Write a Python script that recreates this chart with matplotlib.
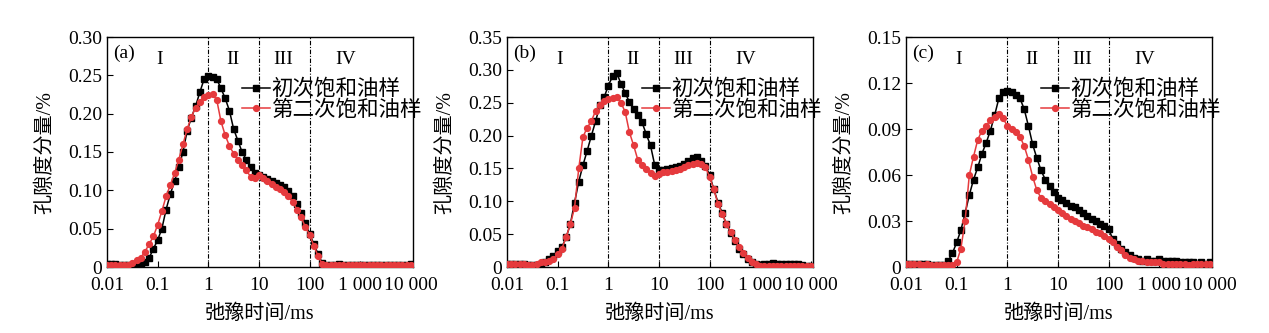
import numpy as np
import matplotlib
matplotlib.use("Agg")
import matplotlib.pyplot as plt
from matplotlib.ticker import FixedLocator, LogLocator, NullFormatter, FuncFormatter

# T2 relaxation time grid (ms), 12 points per decade
t2 = np.logspace(-2, 4, 73)

# (a)
a_first = [0.004, 0.004, 0.004, 0.003, 0.003, 0.002, 0.001, 0.001, 0.002,
           0.006, 0.012, 0.024, 0.035, 0.050, 0.075, 0.095, 0.112, 0.130, 0.150, 0.178, 0.195, 0.210, 0.228, 0.245,
           0.249, 0.248, 0.245, 0.233, 0.220, 0.204, 0.180, 0.165, 0.150, 0.140, 0.130, 0.122,
           0.120, 0.118, 0.115, 0.112, 0.109, 0.107, 0.104, 0.099, 0.092, 0.082, 0.070, 0.057, 0.043, 0.030, 0.017, 0.005, 0.002,
           0.003, 0.003, 0.004, 0.003, 0.003, 0.003, 0.002, 0.003, 0.003, 0.002, 0.002, 0.003, 0.003, 0.003, 0.002, 0.003, 0.003, 0.003, 0.003, 0.004]
a_second = [0.003, 0.003, 0.003, 0.002, 0.002, 0.003, 0.005, 0.009, 0.012,
            0.020, 0.030, 0.040, 0.055, 0.073, 0.092, 0.107, 0.122, 0.140, 0.160, 0.180, 0.196, 0.208, 0.215, 0.222,
            0.225, 0.226, 0.218, 0.190, 0.172, 0.158, 0.148, 0.140, 0.133, 0.126, 0.118, 0.116,
            0.120, 0.116, 0.112, 0.108, 0.105, 0.102, 0.098, 0.093, 0.085, 0.075, 0.065, 0.052, 0.042, 0.028, 0.014, 0.004, 0.002,
            0.002, 0.002, 0.002, 0.003, 0.002, 0.002, 0.002, 0.002, 0.003, 0.002, 0.002, 0.002, 0.002, 0.002, 0.002, 0.002, 0.002, 0.003, 0.002, 0.002]

# (b)
b_first = [0.005, 0.005, 0.005, 0.004, 0.004, 0.003, 0.003, 0.003, 0.004,
           0.008, 0.012, 0.017, 0.025, 0.030, 0.045, 0.065, 0.098, 0.130, 0.155, 0.177, 0.200, 0.222, 0.246, 0.258,
           0.276, 0.290, 0.295, 0.279, 0.265, 0.251, 0.240, 0.231, 0.220, 0.202, 0.185, 0.155,
           0.147, 0.148, 0.149, 0.150, 0.152, 0.154, 0.157, 0.161, 0.166, 0.167, 0.162, 0.154, 0.140, 0.118, 0.098, 0.082, 0.065,
           0.052, 0.040, 0.028, 0.020, 0.012, 0.008, 0.005, 0.003, 0.004, 0.005, 0.006, 0.005, 0.004, 0.005, 0.005, 0.005, 0.004, 0.003, 0.002, 0.001]
b_second = [0.005, 0.005, 0.004, 0.004, 0.004, 0.003, 0.003, 0.005, 0.008,
            0.007, 0.009, 0.012, 0.020, 0.028, 0.045, 0.065, 0.090, 0.150, 0.198, 0.212, 0.222, 0.238, 0.246, 0.252,
            0.255, 0.257, 0.258, 0.250, 0.236, 0.205, 0.185, 0.163, 0.155, 0.149, 0.143, 0.138,
            0.141, 0.144, 0.145, 0.146, 0.147, 0.149, 0.152, 0.155, 0.157, 0.159, 0.157, 0.152, 0.137, 0.118, 0.096, 0.080, 0.066,
            0.053, 0.041, 0.030, 0.021, 0.013, 0.008, 0.004, 0.002, 0.002, 0.002, 0.002, 0.001, 0.002, 0.002, 0.002, 0.001, 0.002, 0.002, 0.001, 0.001]

# (c)
c_first = [0.002, 0.002, 0.002, 0.002, 0.002, 0.002, 0.001, 0.001, 0.001, 0.001,
           0.004, 0.009, 0.016, 0.024, 0.035, 0.047, 0.057, 0.065, 0.074, 0.081, 0.089, 0.099, 0.110, 0.114,
           0.115, 0.114, 0.112, 0.110, 0.103, 0.092, 0.080, 0.071, 0.063, 0.057, 0.053, 0.049,
           0.045, 0.044, 0.042, 0.040, 0.039, 0.037, 0.035, 0.033, 0.031, 0.030, 0.028, 0.027, 0.025, 0.018, 0.015, 0.012, 0.010,
           0.008, 0.006, 0.005, 0.004, 0.005, 0.004, 0.004, 0.005, 0.004, 0.004, 0.004, 0.004, 0.003, 0.003, 0.003, 0.003, 0.002, 0.003, 0.002, 0.003]
c_second = [0.002, 0.002, 0.002, 0.002, 0.001, 0.002, 0.001, 0.001, 0.001, 0.001, 0.001, 0.001,
            0.003, 0.012, 0.030, 0.060, 0.072, 0.083, 0.089, 0.092, 0.096, 0.098, 0.100, 0.097,
            0.092, 0.090, 0.088, 0.085, 0.079, 0.070, 0.059, 0.050, 0.045, 0.043, 0.041, 0.039,
            0.037, 0.035, 0.033, 0.031, 0.030, 0.029, 0.027, 0.026, 0.025, 0.023, 0.022, 0.020, 0.018, 0.016, 0.013, 0.011, 0.008,
            0.006, 0.005, 0.004, 0.004, 0.003, 0.003, 0.003, 0.003, 0.002, 0.002, 0.002, 0.002, 0.002, 0.002, 0.001, 0.002, 0.002, 0.002, 0.002, 0.002]

panel_tags = ["(a)", "(b)", "(c)"]
y_max = [0.30, 0.35, 0.15]
y_step = [0.05, 0.05, 0.03]
x_ticks = [0.01, 0.1, 1, 10, 100, 1000, 10000]
x_ticklabels = ["0.01", "0.1", "1", "10", "100", "1 000", "10 000"]
region_names = ["I", "II", "III", "IV"]
region_pos = [0.11, 3.0, 30, 520]
boundaries = [1, 10, 100]
series_names = ["初次饱和油样", "第二次饱和油样"]

plt.rcParams.update({
    "font.family": ["Liberation Serif", "Noto Sans CJK SC"],
    "xtick.direction": "in",
    "ytick.direction": "in",
    "axes.linewidth": 1.0,
})

fig = plt.figure(figsize=(12.69, 3.33), dpi=100)
lefts = [107, 507, 906]
data = [(a_first, a_second), (b_first, b_second), (c_first, c_second)]

for k in range(3):
    ax = fig.add_axes([lefts[k] / 1269, 1 - 267 / 333, 306 / 1269, 230 / 333])
    first, second = data[k]
    ax.plot(t2, first, c="black", lw=1.1, marker="s", ms=4.0, label=series_names[0], zorder=3)
    ax.plot(t2, second, c="#e53a3d", lw=1.1, marker="o", ms=4.2, label=series_names[1], zorder=4)
    for b in boundaries:
        ax.axvline(b, c="black", lw=0.8, ls=(0, (4, 1.5, 1, 1.5)), zorder=2)

    ax.set_xscale("log")
    ax.set_xlim(0.01, 11000)
    ax.set_ylim(0, y_max[k])
    ax.xaxis.set_major_locator(FixedLocator(x_ticks))
    ax.set_xticklabels(x_ticklabels)
    ax.xaxis.set_minor_locator(LogLocator(base=10, subs=np.arange(2, 10)))
    ax.xaxis.set_minor_formatter(NullFormatter())
    ax.set_yticks(np.arange(0, y_max[k] + 1e-9, y_step[k]))
    ax.yaxis.set_major_formatter(FuncFormatter(lambda v, p: "0" if abs(v) < 1e-9 else f"{v:.2f}"))
    ax.tick_params(which="major", length=4, width=0.8, labelsize=14, top=False, right=False)
    ax.tick_params(which="minor", length=2.5, width=0.7, top=False)
    ax.tick_params(axis="x", pad=7)

    ax.set_xlabel("弛豫时间/ms", fontsize=14.5, labelpad=8)
    ax.set_ylabel("孔隙度分量/%", fontsize=14.5, labelpad=9)

    ax.text(0.02, 0.93, panel_tags[k], transform=ax.transAxes, fontsize=14, va="center", ha="left")
    for name, xp in zip(region_names, region_pos):
        ax.text(xp, 0.90 * y_max[k], name, fontsize=14, ha="center", va="center")

    ax.legend(loc="upper left", bbox_to_anchor=(0.44, 0.815), frameon=False, fontsize=15.5,
              handlelength=1.3, handletextpad=0.1, labelspacing=0.0, borderpad=0, borderaxespad=0)

fig.savefig("out.png", dpi=100)
